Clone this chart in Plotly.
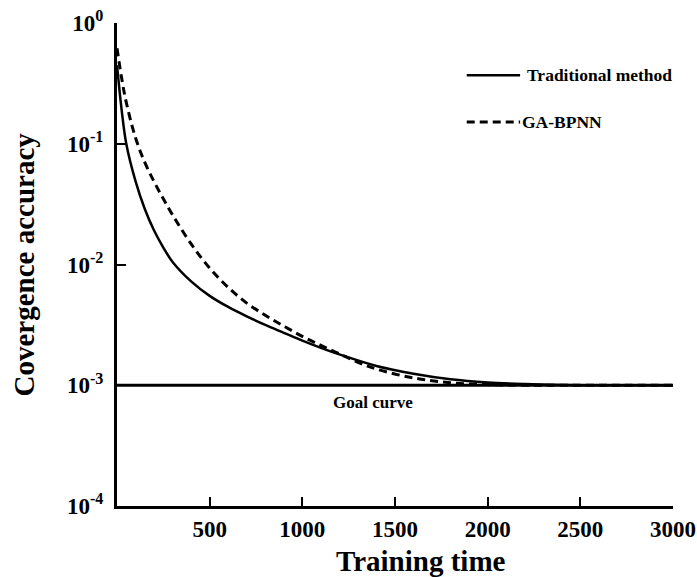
import plotly.graph_objects as go

# ---- data ----
time_trad = [0, 25, 50, 100, 150, 200, 250, 300, 400, 500, 600, 700, 800, 900, 1000, 1100,
             1200, 1400, 1600, 1800, 2000, 2200, 2400, 2600, 2800, 3000]
acc_trad = [0.447, 0.191, 0.100, 0.049, 0.0288, 0.0191, 0.0138, 0.0105, 0.00725, 0.0055,
            0.00445, 0.00372, 0.00316, 0.00272, 0.00234, 0.00204, 0.0018, 0.001445, 0.001245,
            0.00112, 0.001054, 0.001023, 0.001007, 0.001, 0.001, 0.001]

time_ga = [0, 25, 50, 100, 150, 200, 250, 300, 400, 500, 600, 700, 800, 900, 1000, 1100,
           1200, 1300, 1400, 1600, 1800, 2000, 2200, 2400, 2700, 3000]
acc_ga = [0.617, 0.35, 0.22, 0.112, 0.070, 0.0485, 0.0350, 0.0257, 0.0148, 0.00933,
          0.00646, 0.00479, 0.0038, 0.00309, 0.00254, 0.00214, 0.00182, 0.00155, 0.00136,
          0.00115, 0.00105, 0.001012, 0.001002, 0.001, 0.001, 0.001]

goal_time = [0, 3000]
goal_acc = [0.001, 0.001]

x_ticks = [500, 1000, 1500, 2000, 2500, 3000]
y_ticks = [1e-4, 1e-3, 1e-2, 1e-1, 1]
y_tick_text = ["10<sup>-4</sup>", "10<sup>-3</sup>", "10<sup>-2</sup>", "10<sup>-1</sup>", "10<sup>0</sup>"]

FONT = "Liberation Serif"

fig = go.Figure()
fig.add_trace(go.Scatter(x=goal_time, y=goal_acc, mode="lines",
                         line=dict(color="black", width=3), showlegend=False))
fig.add_trace(go.Scatter(x=time_trad, y=acc_trad, mode="lines", line_shape="spline",
                         line=dict(color="black", width=2.5), name="Traditional method",
                         showlegend=False))
fig.add_trace(go.Scatter(x=time_ga, y=acc_ga, mode="lines", line_shape="spline",
                         line=dict(color="black", width=3, dash="8px,5px"), name="GA-BPNN",
                         showlegend=False))

fig.update_layout(
    width=697, height=577,
    margin=dict(l=117, r=24, t=23, b=71),
    paper_bgcolor="white", plot_bgcolor="white",
    font=dict(family=FONT, color="black"),
    xaxis=dict(range=[0, 3000], tickvals=x_ticks, ticks="inside", ticklen=9, tickwidth=2,
               tickcolor="black", showline=True, linewidth=3, linecolor="black",
               showgrid=False, zeroline=False, automargin=False,
               tickfont=dict(family=FONT, size=23, weight="bold", color="black")),
    yaxis=dict(type="log", range=[-4, 0], tickvals=y_ticks, ticktext=y_tick_text,
               ticks="inside", ticklen=9, tickwidth=2, tickcolor="black",
               showline=True, linewidth=3, linecolor="black",
               showgrid=False, zeroline=False, automargin=False, ticklabelstandoff=6,
               tickfont=dict(family=FONT, size=23, weight="bold", color="black")),
)

# axis titles
fig.add_annotation(text="Training time", xref="paper", yref="paper", x=0.547, y=0,
                   yshift=-55, showarrow=False, yanchor="middle",
                   font=dict(family=FONT, size=29, weight="bold", color="black"))
fig.add_annotation(text="Covergence accuracy", xref="paper", yref="paper", x=0, y=0.5,
                   xshift=-94, showarrow=False, textangle=-90, xanchor="center",
                   font=dict(family=FONT, size=29, weight="bold", color="black"))

# goal label
fig.add_annotation(text="Goal curve", x=1380, y=-3.14, xref="x", yref="y", showarrow=False,
                   font=dict(family=FONT, size=17, weight="bold", color="black"))

# legend (drawn manually)
fig.add_shape(type="line", xref="paper", yref="paper", x0=0.629, x1=0.725, y0=0.892, y1=0.892,
              line=dict(color="black", width=2.5))
fig.add_shape(type="line", xref="paper", yref="paper", x0=0.629, x1=0.725, y0=0.795, y1=0.795,
              line=dict(color="black", width=3, dash="8px,5px"))
fig.add_annotation(text="Traditional method", xref="paper", yref="paper", x=0.733, y=0.892,
                   xanchor="left", yanchor="middle", showarrow=False,
                   font=dict(family=FONT, size=17.5, weight="bold", color="black"))
fig.add_annotation(text="GA-BPNN", xref="paper", yref="paper", x=0.725, y=0.795,
                   xanchor="left", yanchor="middle", showarrow=False,
                   font=dict(family=FONT, size=17.5, weight="bold", color="black"))

fig.write_html("out.html", config={"displayModeBar": False},
               post_script="document.body.style.margin='0';document.body.style.overflow='hidden';")
